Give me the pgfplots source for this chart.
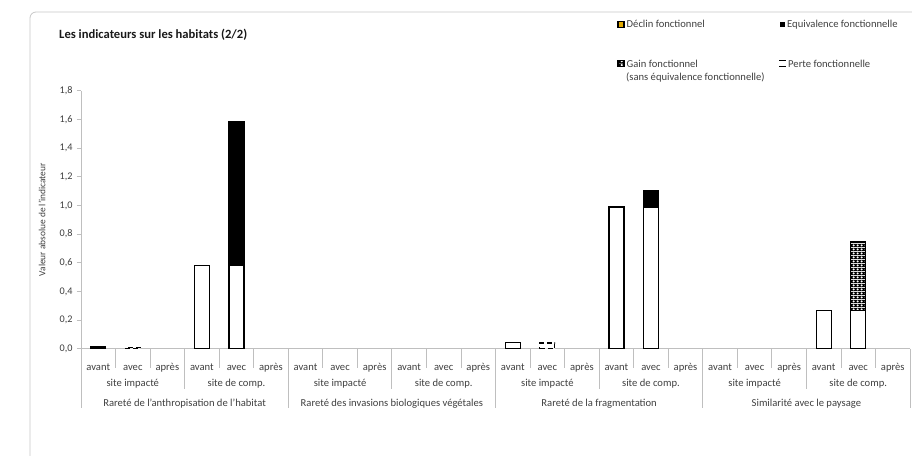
\documentclass[border=0pt]{standalone}
\usepackage{pgfplots}
\pgfplotsset{compat=1.18}
\usepackage{fontspec}
\setmainfont{Carlito}
\usetikzlibrary{patterns.meta}
\definecolor{txt}{RGB}{64,64,64}
\definecolor{sep}{RGB}{191,191,191}
\definecolor{framec}{RGB}{200,200,200}
\definecolor{declin}{RGB}{226,170,0}
\tikzdeclarepattern{
  name=gainpat, type=colored,
  bottom left={(0pt,0pt)}, top right={(4pt,4pt)}, tile size={(4pt,4pt)},
  code={\fill[black] (0pt,0pt) rectangle (4pt,4pt); \fill[white] (2pt,0.6pt) -- (3.4pt,2pt) -- (2pt,3.4pt) -- (0.6pt,2pt) -- cycle;}
}
\newcommand{\lf}{\fontsize{10.6}{12.5}\selectfont}
\begin{document}
\begin{tikzpicture}
\clip (0pt,0pt) rectangle (912pt,-455pt);
\fill[white] (0pt,0pt) rectangle (912pt,-455pt);
\draw[framec, line width=0.8pt, rounded corners=6pt] (30pt,-480pt) -- (30pt,-12pt) -- (940pt,-12pt);
\node[anchor=base west, inner sep=0pt, font=\bfseries\fontsize{12.6}{14}\selectfont, text=black!90] at (59pt,-38pt) {Les indicateurs sur les habitats (2/2)};
% legend
\begin{scope}[every node/.style={anchor=base west, inner sep=0pt, text=txt, font=\lf}]
\draw[fill=declin, draw=black, line width=1.1pt] (618pt,-21.5pt) rectangle (624pt,-27.5pt);
\node at (626.5pt,-27.8pt) {Déclin fonctionnel};
\fill[black] (779.5pt,-21.5pt) rectangle (785pt,-27pt);
\node at (787pt,-27.8pt) {Equivalence fonctionnelle};
\draw[pattern=gainpat, draw=black, line width=1.1pt] (618pt,-60.5pt) rectangle (624pt,-66.5pt);
\node at (626.5pt,-67pt) {Gain fonctionnel};
\node at (626pt,-80.5pt) {(sans équivalence fonctionnelle)};
\draw[black, line width=1.3pt] (779pt,-60.8pt) -- (785.5pt,-60.8pt) (779pt,-66.2pt) -- (785.5pt,-66.2pt);
\node at (788pt,-67pt) {Perte fonctionnelle};
\end{scope}
\begin{axis}[
  at={(81pt,-348.7pt)}, anchor=south west,
  scale only axis, width=829pt, height=258pt,
  xmin=-0.5, xmax=23.5, ymin=0, ymax=1.8,
  clip=false,
  axis x line*=bottom, axis y line*=left,
  axis line style={draw=sep, line width=0.8pt},
  xtick={0,...,23},
  xticklabels={avant,avec,après,avant,avec,après,avant,avec,après,avant,avec,après,avant,avec,après,avant,avec,après,avant,avec,après,avant,avec,après},
  xtick style={draw=none},
  x tick label style={anchor=base, yshift=-17.3pt, text=txt, font=\lf},
  ytick={0,0.2,0.4,0.6,0.8,1.0,1.2,1.4,1.6,1.8},
  ytick style={draw=sep, line width=0.8pt},
  tick align=outside, major tick length=4pt,
  y tick label style={text=txt, font=\fontsize{10.2}{12}\selectfont, xshift=-1pt},
  /pgf/number format/.cd, fixed, fixed zerofill, precision=1, use comma, assume math mode=true,
  /pgfplots/.cd,
  ylabel={Valeur absolue de l'indicateur},
  ylabel style={at={(axis description cs:-0.047,0.5)}, anchor=center, text=txt, font=\fontsize{9.4}{11}\selectfont},
]
% Equivalence fonctionnelle (total height)
\addplot[ybar, bar width=15pt, bar shift=0pt, fill=black, draw=black, line width=1.2pt]
  coordinates {(4,1.586) (16,1.104)};
% Gain fonctionnel (total height)
\addplot[ybar, bar width=15pt, bar shift=0pt, pattern=gainpat, draw=black, line width=1.2pt]
  coordinates {(22,0.745)};
% base value
\addplot[ybar, bar width=15pt, bar shift=0pt, fill=white, draw=black, line width=1.2pt]
  coordinates {(0,0.012) (3,0.578) (4,0.578) (12,0.045) (15,0.988) (16,0.988) (21,0.265) (22,0.265)};
% Perte fonctionnelle
\addplot[ybar, bar width=15pt, bar shift=0pt, fill=white, draw=black, line width=1.2pt, dash pattern=on 5pt off 3pt]
  coordinates {(1,0.01) (13,0.04)};
% separators
\pgfplotsinvokeforeach{0.5,1.5,3.5,4.5,6.5,7.5,9.5,10.5,12.5,13.5,15.5,16.5,18.5,19.5,21.5,22.5}{
  \draw[sep, line width=0.8pt] (axis cs:#1,0) -- ++(0pt,-19.5pt);
}
\pgfplotsinvokeforeach{2.5,8.5,14.5,20.5}{
  \draw[sep, line width=0.8pt] (axis cs:#1,0) -- ++(0pt,-40.5pt);
}
\pgfplotsinvokeforeach{-0.5,5.5,11.5,17.5,23.5}{
  \draw[sep, line width=0.8pt] (axis cs:#1,0) -- ++(0pt,-59.5pt);
}
\pgfplotsinvokeforeach{1,7,13,19}{
  \node[anchor=base, text=txt, font=\lf] at (axis cs:#1,0) [yshift=-37.5pt] {site impacté};
}
\pgfplotsinvokeforeach{4,10,16,22}{
  \node[anchor=base, text=txt, font=\lf] at (axis cs:#1,0) [yshift=-37.5pt] {site de comp.};
}
\node[anchor=base, text=txt, font=\lf] at (axis cs:2.5,0) [yshift=-57.5pt] {Rareté de l'anthropisation de l'habitat};
\node[anchor=base, text=txt, font=\lf] at (axis cs:8.5,0) [yshift=-57.5pt] {Rareté des invasions biologiques végétales};
\node[anchor=base, text=txt, font=\lf] at (axis cs:14.5,0) [yshift=-57.5pt] {Rareté de la fragmentation};
\node[anchor=base, text=txt, font=\lf] at (axis cs:20.5,0) [yshift=-57.5pt] {Similarité avec le paysage};
\end{axis}
\end{tikzpicture}
\end{document}
